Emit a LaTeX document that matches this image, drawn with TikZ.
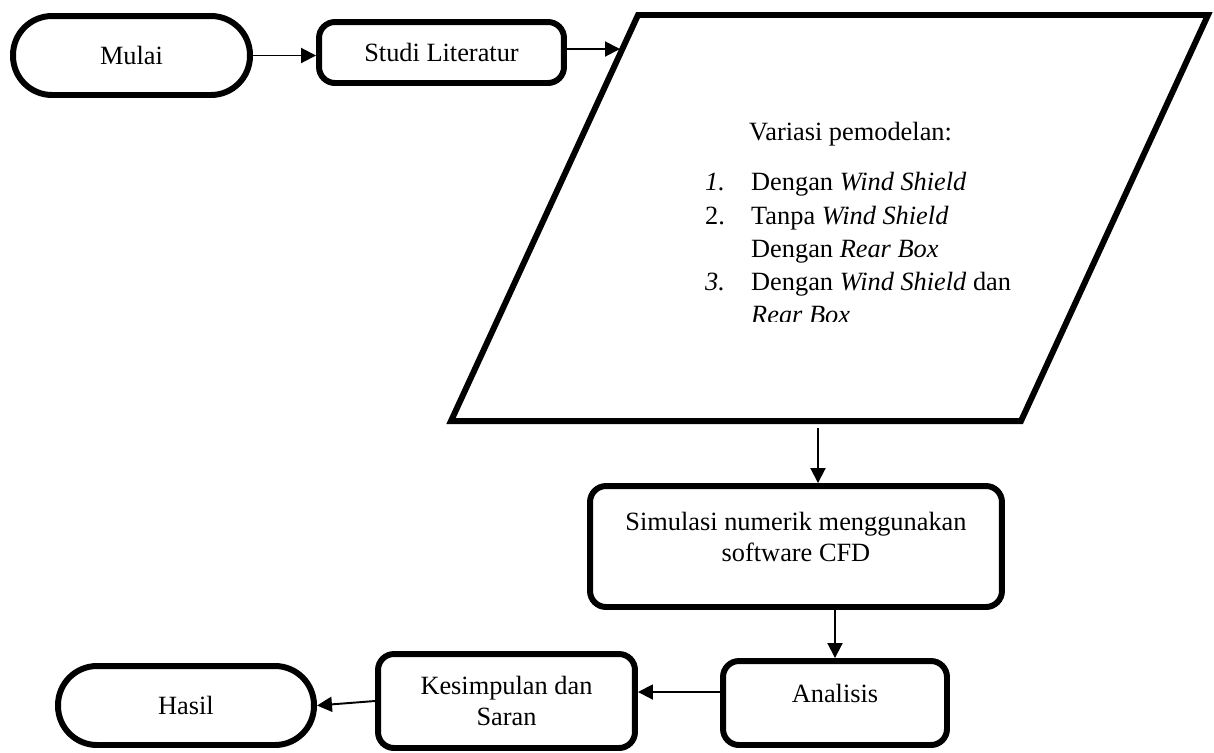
\documentclass[tikz,border=0pt]{standalone}
\usepackage{fontspec}
\setmainfont{Liberation Serif}
\usetikzlibrary{arrows.meta}

\begin{document}
\begin{tikzpicture}[x=0.02cm,y=-0.02cm,
    every node/.style={font=\fontsize{15}{18}\selectfont},
    block/.style={draw,line width=3.4pt,inner sep=0pt},
    term/.style={block,rounded corners=0.78cm},
    proc/.style={block,rounded corners=0.32cm},
    arrow/.style={line width=1.1pt,-{Triangle[length=0.3cm,width=0.3cm]}}]
    \useasboundingbox (0,0) rectangle (1214,752);

    \node[term,minimum width=4.74cm,minimum height=1.58cm] (mulai) at (131.5,55.5) {Mulai};
    \node[proc,minimum width=4.9cm,minimum height=1.22cm] (studi) at (441.5,52.5) {Studi Literatur};

    % data block
    \draw[line width=3.4pt] (638,15) -- (1208,15) -- (1021,421) -- (451,421) -- cycle;
    \coordinate (pin) at (620,49);
    \coordinate (pbot) at (818,428);
    \node[anchor=base west] (head) at (743,140) {Variasi pemodelan:};
    \node[anchor=base west] (n1) at (699,190) {\textit{1.}};
    \node[anchor=base west] (v1) at (745,190) {Dengan \textit{Wind Shield}};
    \node[anchor=base west] (n2) at (699,224) {2.};
    \node[anchor=base west] (v2) at (745,224) {Tanpa \textit{Wind Shield}};
    \node[anchor=base west] (v2b) at (745,257) {Dengan \textit{Rear Box}};
    \node[anchor=base west] (n3) at (699,290) {\textit{3.}};
    \node[anchor=base west] (v3) at (745,290) {Dengan \textit{Wind Shield} dan};
    \begin{scope}
      \clip (600,300) rectangle (1100,321);
      \node[anchor=base west] (v3b) at (745,323) {\textit{Rear Box}};
    \end{scope}

    \node[proc,minimum width=8.24cm,minimum height=2.42cm] (sim) at (796,546.5) {};
    \node[align=center] (simtxt) at (796,537) {Simulasi numerik menggunakan\\software CFD};
    \node[proc,minimum width=4.48cm,minimum height=1.68cm] (anal) at (835,703) {};
    \node (analtxt) at (835,693) {Analisis};
    \node[proc,minimum width=5.14cm,minimum height=1.88cm,align=center] (kes) at (506.5,701) {Kesimpulan dan\\Saran};
    \node[term,minimum width=5.12cm,minimum height=1.58cm] (hasil) at (186,705.5) {Hasil};

    \draw[arrow] (mulai.east) -- (mulai.east -| studi.west);
    \draw[arrow] ([yshift=0.07cm]studi.east) -- (pin);
    \draw[arrow] (pbot) -- (pbot |- sim.north);
    \draw[arrow] (anal.north |- sim.south) -- (anal.north);
    \draw[arrow] ([yshift=0.22cm]anal.west) -- ([yshift=0.22cm]anal.west -| kes.east);
    \draw[arrow] (kes.west) -- (hasil.east);

\end{tikzpicture}
\end{document}
